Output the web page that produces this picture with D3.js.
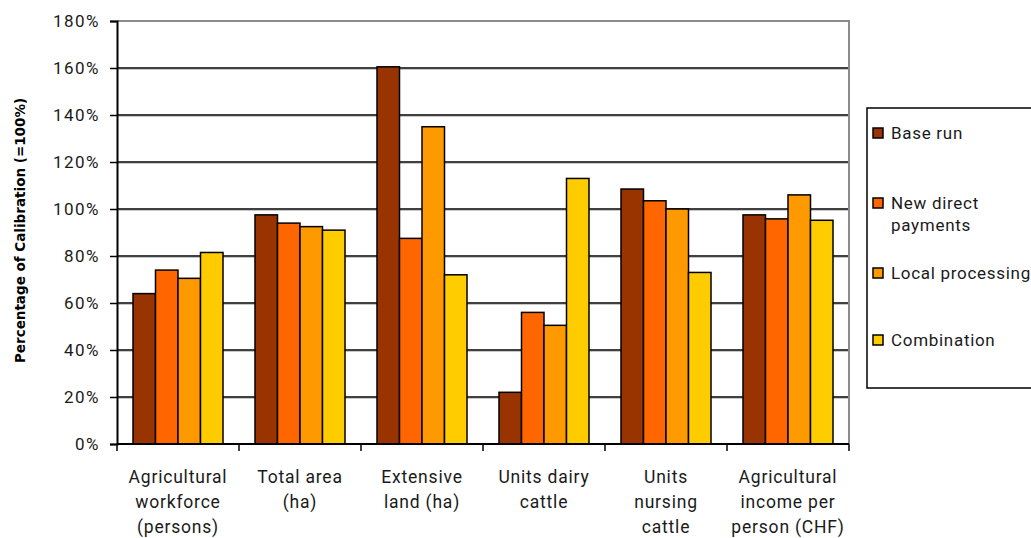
<!DOCTYPE html>
<html>
<head>
<meta charset="utf-8">
<script src="https://cdn.jsdelivr.net/npm/d3@7"></script>
<style>
  html, body { margin: 0; padding: 0; background: #fff; }
  svg text { font-family: Roboto, "Open Sans", sans-serif; fill: #1a1a1a; }
  svg text.axis-title { font-family: "DejaVu Sans", Verdana, sans-serif; fill: #000; }
</style>
</head>
<body>
<svg id="chart" width="1031" height="538"></svg>
<script>
// Categories (multi-line labels) and scenario series, values in % of calibration
const categories = [
  ["Agricultural", "workforce", "(persons)"],
  ["Total area", "(ha)"],
  ["Extensive", "land (ha)"],
  ["Units dairy", "cattle"],
  ["Units", "nursing", "cattle"],
  ["Agricultural", "income per", "person (CHF)"]
];
const seriesNames = ["Base run", "New direct payments", "Local processing", "Combination"];
const seriesLegendLines = [["Base run"], ["New direct", "payments"], ["Local processing"], ["Combination"]];
const seriesColors = ["#993300", "#FF6600", "#FF9900", "#FFCC00"];
const baseRun = [64, 97.5, 160.5, 22, 108.5, 97.5];
const newDirectPayments = [74, 94, 87.5, 56, 103.5, 95.8];
const localProcessing = [70.5, 92.5, 135, 50.5, 100, 106];
const combination = [81.5, 91, 72, 113, 73, 95.2];
const yTicks = [0, 20, 40, 60, 80, 100, 120, 140, 160, 180];

const values = [baseRun, newDirectPayments, localProcessing, combination];
const catKeys = categories.map(c => c.join(" "));

const svg = d3.select("#chart");
const plot = { left: 117, right: 849, top: 21, bottom: 444 };

const x = d3.scaleBand().domain(catKeys).range([plot.left, plot.right]).paddingInner(0).paddingOuter(0);
const groupPad = 16;
const xs = d3.scaleBand().domain(d3.range(seriesNames.length))
  .range([groupPad, x.bandwidth() - groupPad]).padding(0);
const y = d3.scaleLinear().domain([0, 180]).range([plot.bottom, plot.top]);

// Horizontal gridlines with a light drop shadow
const grid = svg.append("g");
yTicks.filter(t => t > 0 && t < 180).forEach(t => {
  grid.append("line").attr("x1", plot.left).attr("x2", plot.right)
    .attr("y1", y(t) + 1.5).attr("y2", y(t) + 1.5)
    .attr("stroke", "#c8c8c8").attr("stroke-width", 1);
  grid.append("line").attr("x1", plot.left).attr("x2", plot.right)
    .attr("y1", y(t)).attr("y2", y(t))
    .attr("stroke", "#000").attr("stroke-width", 1.5);
});
// Top and right frame in grey
svg.append("path")
  .attr("d", `M${plot.left},${y(180)}H${plot.right}V${plot.bottom}`)
  .attr("fill", "none").attr("stroke", "#8c8c8c").attr("stroke-width", 2);

// Bars
const bars = svg.append("g");
values.forEach((vals, si) => {
  bars.selectAll(null).data(vals).enter().append("rect")
    .attr("x", (d, i) => x(catKeys[i]) + xs(si))
    .attr("y", d => y(d))
    .attr("width", xs.bandwidth())
    .attr("height", d => y(0) - y(d))
    .attr("fill", seriesColors[si])
    .attr("stroke", "#000").attr("stroke-width", 1.5);
});

// Y axis
const yAxis = d3.axisLeft(y).tickValues(yTicks).tickSize(7).tickFormat(d => d + "%");
const ya = svg.append("g").attr("transform", `translate(${plot.left},0)`).call(yAxis);
ya.select(".domain").attr("stroke", "#000").attr("stroke-width", 2);
ya.selectAll(".tick line").attr("stroke", "#000").attr("stroke-width", 1.5);
ya.selectAll(".tick text").attr("x", -17).attr("font-size", 17)
  .style("letter-spacing", "1.5px")
  .attr("font-family", "Roboto, sans-serif").attr("fill", "#1a1a1a");

// X axis with ticks at category boundaries
const xa = svg.append("g").attr("transform", `translate(0,${plot.bottom})`);
xa.append("line").attr("x1", plot.left).attr("x2", plot.right)
  .attr("stroke", "#000").attr("stroke-width", 2);
const bounds = [plot.left].concat(catKeys.map(k => x(k) + x.bandwidth()));
bounds.forEach(bx => {
  xa.append("line").attr("x1", bx).attr("x2", bx)
    .attr("y1", 0).attr("y2", 7).attr("stroke", "#000").attr("stroke-width", 1.5);
});
catKeys.forEach((k, i) => {
  const t = xa.append("text").attr("text-anchor", "middle")
    .attr("font-size", 17.5).style("letter-spacing", "0.8px");
  categories[i].forEach((line, li) => {
    t.append("tspan").attr("x", x(k) + x.bandwidth() / 2).attr("y", 39 + li * 25).text(line);
  });
});

// Y axis title
svg.append("text").attr("class", "axis-title")
  .attr("transform", `translate(25,${(plot.top + plot.bottom) / 2 - 2}) rotate(-90)`)
  .attr("text-anchor", "middle").attr("font-size", 13.5).attr("font-weight", "bold")
  .text("Percentage of Calibration (=100%)");

// Legend
const lg = svg.append("g");
lg.append("rect").attr("x", 867).attr("y", 108).attr("width", 170).attr("height", 280)
  .attr("fill", "#fff").attr("stroke", "#000").attr("stroke-width", 1.5);
const legendY = [133, 203, 273, 340];
seriesNames.forEach((name, i) => {
  lg.append("rect").attr("x", 873).attr("y", legendY[i] - 5).attr("width", 10).attr("height", 10)
    .attr("fill", seriesColors[i]).attr("stroke", "#000").attr("stroke-width", 1.5);
  const t = lg.append("text").attr("font-size", 17).style("letter-spacing", "0.7px");
  seriesLegendLines[i].forEach((line, li) => {
    t.append("tspan").attr("x", 891).attr("y", legendY[i] + 6 + li * 22).text(line);
  });
});
</script>
</body>
</html>
